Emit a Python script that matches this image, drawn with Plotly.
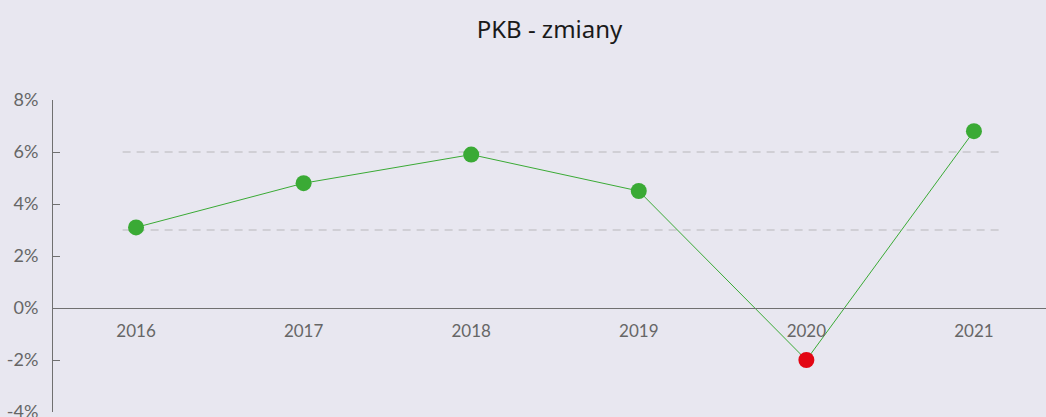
import plotly.graph_objects as go

# Data
years = ["2016", "2017", "2018", "2019", "2020", "2021"]
gdp_change = [3.1, 4.8, 5.9, 4.5, -2.0, 6.8]
ref_levels = [3, 6]  # dashed reference lines
y_ticks = [-4, -2, 0, 2, 4, 6, 8]

GREEN = "#3aaa35"
RED = "#e30613"
BG = "#e8e7f0"

marker_colors = [RED if v < 0 else GREEN for v in gdp_change]

fig = go.Figure()

fig.add_trace(go.Scatter(
    x=years, y=gdp_change,
    mode="lines+markers",
    line=dict(color=GREEN, width=1),
    marker=dict(size=16, color=marker_colors, line=dict(width=0)),
    showlegend=False,
    hoverinfo="x+y",
))

# dashed reference lines
for lvl in ref_levels:
    fig.add_shape(
        type="line", xref="x", yref="y",
        x0=-0.08, x1=5.15, y0=lvl, y1=lvl,
        line=dict(color="#c8c8cc", width=1.5, dash="8px,6px"),
        layer="below",
    )

fig.update_layout(
    width=1046, height=417,
    paper_bgcolor=BG, plot_bgcolor=BG,
    margin=dict(l=53, r=0, t=100, b=5),
    title=dict(
        text="PKB - zmiany", x=0.5, xref="paper", xanchor="center",
        y=1 - 30 / 417, yref="container", yanchor="middle",
        font=dict(family="Noto Sans, Open Sans, sans-serif", size=24, color="#1a1a1a"),
    ),
    font=dict(family="Lato, sans-serif", color="#666666"),
)

fig.update_xaxes(
    type="category",
    range=[-0.4955, 5.43],
    showgrid=False, zeroline=False,
    showline=True, linecolor="#707070", linewidth=1,
    anchor="free", position=4 / 12,
    ticks="", ticklabelstandoff=8,
    tickfont=dict(size=17, color="#666666"),
    automargin=False,
)

fig.update_yaxes(
    range=[-4, 8],
    tickvals=y_ticks,
    ticktext=[f"{v}%" for v in y_ticks],
    showgrid=False, zeroline=False,
    showline=True, linecolor="#707070", linewidth=1,
    ticks="inside", ticklen=7, tickcolor="#707070",
    ticklabelstandoff=10, ticklabeloverflow="allow",
    tickfont=dict(size=18, color="#666666"),
    automargin=False,
)

# page margin off so the figure sits at the window corner
fig.write_html(
    "out.html",
    config={"displayModeBar": False},
    post_script="document.body.style.margin='0';"
                "document.body.style.background='%s';" % BG,
)
